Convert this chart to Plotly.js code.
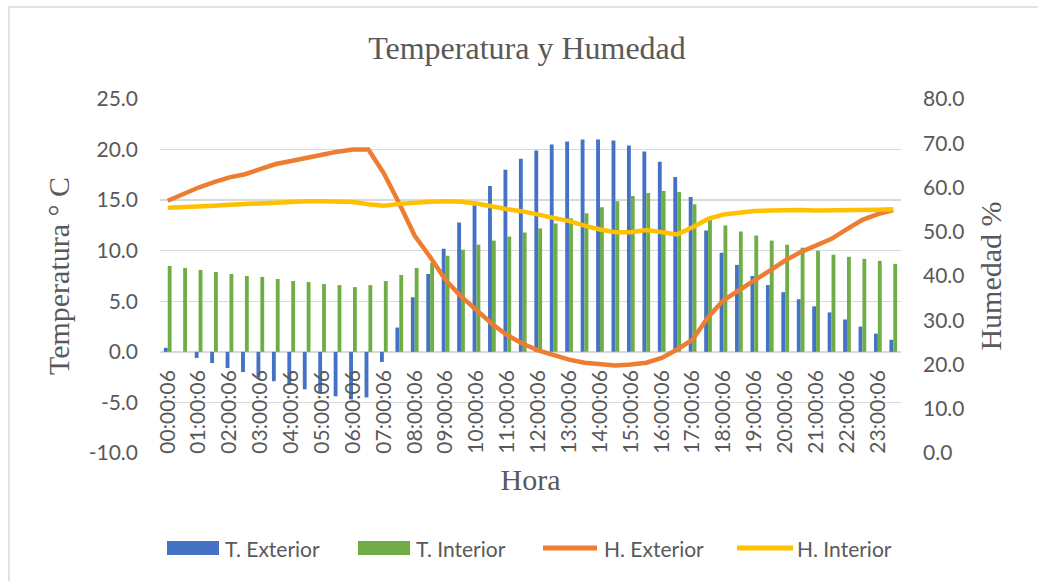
<!DOCTYPE html>
<html>
<head>
<meta charset="utf-8">
<script src="https://cdn.plot.ly/plotly-3.0.1.min.js"></script>
<style>
  html, body { margin: 0; padding: 0; background: #ffffff; }
  #chart { width: 1038px; height: 581px; }
</style>
</head>
<body>
<div id="chart"></div>
<script>
// ---- Data ----
const horas = [
  "00:00:06","00:30:06","01:00:06","01:30:06","02:00:06","02:30:06",
  "03:00:06","03:30:06","04:00:06","04:30:06","05:00:06","05:30:06",
  "06:00:06","06:30:06","07:00:06","07:30:06","08:00:06","08:30:06",
  "09:00:06","09:30:06","10:00:06","10:30:06","11:00:06","11:30:06",
  "12:00:06","12:30:06","13:00:06","13:30:06","14:00:06","14:30:06",
  "15:00:06","15:30:06","16:00:06","16:30:06","17:00:06","17:30:06",
  "18:00:06","18:30:06","19:00:06","19:30:06","20:00:06","20:30:06",
  "21:00:06","21:30:06","22:00:06","22:30:06","23:00:06","23:30:06"
];
const etiquetasHora = [
  "00:00:06","01:00:06","02:00:06","03:00:06","04:00:06","05:00:06",
  "06:00:06","07:00:06","08:00:06","09:00:06","10:00:06","11:00:06",
  "12:00:06","13:00:06","14:00:06","15:00:06","16:00:06","17:00:06",
  "18:00:06","19:00:06","20:00:06","21:00:06","22:00:06","23:00:06"
];
const tExterior = [
  0.4, 0.0, -0.6, -1.1, -1.6, -2.0, -2.5, -2.9, -3.3, -3.7, -4.0, -4.4,
  -4.7, -4.5, -1.0, 2.4, 5.4, 7.7, 10.2, 12.8, 14.5, 16.4, 18.0, 19.1,
  19.9, 20.5, 20.8, 21.0, 21.0, 20.9, 20.4, 19.8, 18.8, 17.3, 15.3, 12.0,
  9.8, 8.6, 7.5, 6.6, 5.9, 5.2, 4.5, 3.9, 3.2, 2.5, 1.8, 1.2
];
const tInterior = [
  8.5, 8.3, 8.1, 7.9, 7.7, 7.5, 7.4, 7.2, 7.0, 6.9, 6.7, 6.6,
  6.4, 6.6, 7.0, 7.6, 8.3, 8.8, 9.5, 10.1, 10.6, 11.0, 11.4, 11.8,
  12.2, 12.7, 13.2, 13.7, 14.3, 14.9, 15.4, 15.7, 15.9, 15.8, 14.6, 13.1,
  12.5, 11.9, 11.5, 11.0, 10.6, 10.3, 10.0, 9.6, 9.4, 9.2, 9.0, 8.7
];
const hExterior = [
  57.0, 58.5, 60.0, 61.2, 62.3, 63.0, 64.2, 65.3, 66.0, 66.8, 67.4, 68.1,
  68.6, 68.6, 63.2, 56.4, 49.1, 44.3, 39.1, 35.4, 32.4, 29.2, 26.6, 24.7,
  23.2, 22.1, 21.1, 20.4, 20.0, 19.8, 20.0, 20.4, 21.5, 23.4, 25.6, 30.7,
  34.5, 36.9, 39.0, 41.2, 43.5, 45.4, 46.9, 48.4, 50.6, 52.7, 54.0, 54.9
];
const hInterior = [
  55.4, 55.5, 55.7, 55.9, 56.1, 56.3, 56.4, 56.6, 56.7, 56.9, 56.9, 56.9,
  56.7, 56.2, 55.9, 56.3, 56.6, 56.8, 56.9, 56.8, 56.4, 55.7, 55.1, 54.6,
  53.9, 53.1, 52.4, 51.4, 50.5, 49.9, 49.9, 50.4, 49.9, 49.4, 51.0, 52.9,
  53.9, 54.4, 54.7, 54.8, 54.9, 54.9, 54.8, 54.8, 54.8, 54.9, 55.0, 55.1
];
const tempTicks = [-10, -5, 0, 5, 10, 15, 20, 25];
const tempTickText = ["-10.0","-5.0","0.0","5.0","10.0","15.0","20.0","25.0"];
const humTicks = [0, 10, 20, 30, 40, 50, 60, 70, 80];
const humTickText = ["0.0","10.0","20.0","30.0","40.0","50.0","60.0","70.0","80.0"];
const seriesNames = ["T. Exterior", "T. Interior", "H. Exterior", "H. Interior"];
const seriesColors = ["#4472C4", "#70AD47", "#ED7D31", "#FFC000"];

// ---- Layout helpers ----
const W = 1038, H = 581;
const M = { l: 160, r: 137, t: 99, b: 128 };
const PW = W - M.l - M.r, PH = H - M.t - M.b;
const px = x => (x - M.l) / PW;          // pixel -> paper x
const py = y => (H - M.b - y) / PH;      // pixel -> paper y

const textGray = "#595959";
const sansFont = { family: "Lato, 'Open Sans', sans-serif", size: 21, color: textGray };
const serifFont = { family: "'Liberation Serif', 'DejaVu Serif', serif", size: 30, color: textGray };

const traces = [
  { type: "bar", name: seriesNames[0], x: horas, y: tExterior, marker: { color: seriesColors[0] }, yaxis: "y" },
  { type: "bar", name: seriesNames[1], x: horas, y: tInterior, marker: { color: seriesColors[1] }, yaxis: "y" },
  { type: "scatter", mode: "lines", name: seriesNames[2], x: horas, y: hExterior, yaxis: "y2",
    line: { color: seriesColors[2], width: 4.5 } },
  { type: "scatter", mode: "lines", name: seriesNames[3], x: horas, y: hInterior, yaxis: "y2",
    line: { color: seriesColors[3], width: 4.5 } }
];

// Custom legend (swatches + labels)
const legendY = 548;
const legendItems = [
  { kind: "bar",  x0: 167, x1: 219, tx: 223 },
  { kind: "bar",  x0: 358, x1: 410, tx: 414 },
  { kind: "line", x0: 543, x1: 597, tx: 602 },
  { kind: "line", x0: 737, x1: 793, tx: 795 }
];

const shapes = [
  { type: "rect", xref: "paper", yref: "paper", x0: px(9), x1: px(1060), y0: py(600), y1: py(7),
    line: { color: "#D9D9D9", width: 1.5 }, fillcolor: "rgba(0,0,0,0)", layer: "below" }
];
const annotations = [];
legendItems.forEach((it, i) => {
  if (it.kind === "bar") {
    shapes.push({ type: "rect", xref: "paper", yref: "paper", x0: px(it.x0), x1: px(it.x1),
      y0: py(legendY + 7), y1: py(legendY - 7), fillcolor: seriesColors[i], line: { width: 0 } });
  } else {
    shapes.push({ type: "line", xref: "paper", yref: "paper", x0: px(it.x0), x1: px(it.x1),
      y0: py(legendY), y1: py(legendY), line: { color: seriesColors[i], width: 5 } });
  }
  annotations.push({ xref: "paper", yref: "paper", x: px(it.tx), y: py(legendY),
    xanchor: "left", yanchor: "middle", showarrow: false, text: seriesNames[i], font: sansFont });
});

const layout = {
  width: W, height: H,
  margin: { l: M.l, r: M.r, t: M.t, b: M.b, pad: 0 },
  paper_bgcolor: "#ffffff", plot_bgcolor: "#ffffff",
  title: { text: "Temperatura y Humedad", font: { family: serifFont.family, size: 32, color: textGray },
    xref: "container", x: 527 / W, xanchor: "center", yref: "container", y: 1 - 48 / H, yanchor: "middle" },
  barmode: "group", bargap: 0.5, bargroupgap: 0,
  showlegend: false,
  xaxis: {
    type: "category", categoryorder: "array", categoryarray: horas,
    range: [-0.5, horas.length - 0.5],
    anchor: "free", position: 10 / 35,
    tickmode: "array", tickvals: etiquetasHora, ticktext: etiquetasHora,
    tickangle: -90, tickfont: sansFont, ticks: "", ticklabelstandoff: 13,
    showgrid: false, showline: false, zeroline: false,
    title: { text: "Hora", font: serifFont, standoff: 16 }
  },
  yaxis: {
    range: [-10, 25], tickmode: "array", tickvals: tempTicks, ticktext: tempTickText,
    showgrid: true, gridcolor: "#D9D9D9", gridwidth: 1.3, zeroline: false, showline: false,
    ticks: "", ticklabelstandoff: 21, tickfont: sansFont,
    title: { text: "Temperatura ° C", font: serifFont, standoff: 10 }
  },
  yaxis2: {
    overlaying: "y", side: "right", range: [0, 80],
    tickmode: "array", tickvals: humTicks, ticktext: humTickText,
    showgrid: false, zeroline: false, showline: false,
    ticks: "", ticklabelstandoff: 21, tickfont: sansFont,
    title: { text: "Humedad %", font: serifFont, standoff: 16 }
  },
  shapes: shapes,
  annotations: annotations
};

Plotly.newPlot("chart", traces, layout, { staticPlot: true, displayModeBar: false });
</script>
</body>
</html>
